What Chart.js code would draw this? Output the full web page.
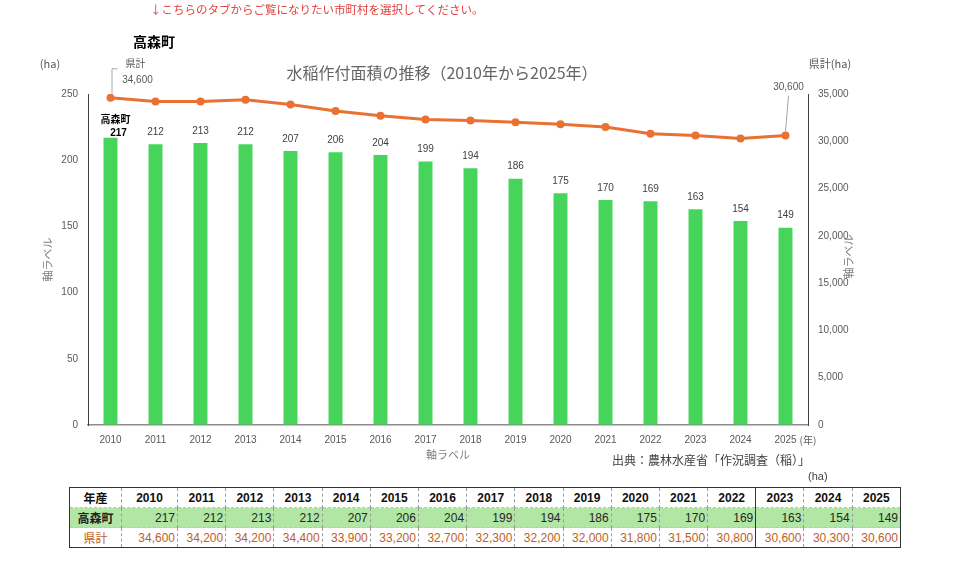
<!DOCTYPE html>
<html lang="ja">
<head>
<meta charset="utf-8">
<script src="https://cdn.jsdelivr.net/npm/chart.js@4.4.1/dist/chart.umd.min.js"></script>
<style>
  body { margin: 0; background: #fff; width: 960px; height: 567px; overflow: hidden; position: relative; }
  #wrap { position: absolute; left: 0; top: 0; width: 960px; height: 472px; }
  #tbl {
    position: absolute; left: 69px; top: 487px; width: 832px;
    border-collapse: collapse; table-layout: fixed;
    border: 1px solid #333;
    font-family: 'Liberation Sans', 'Noto Sans CJK JP', sans-serif; font-size: 12px;
  }
  #tbl th, #tbl td { height: 19px; padding: 0 2px; border-left: 1px dashed #9a9a9a; border-top: 1px dashed #c0c0c0; white-space: nowrap; }
  #tbl .hd th { font-weight: bold; text-align: center; color: #111; }
  #tbl .tk { background: #b2e6a4; }
  #tbl .tk th { font-weight: bold; color: #222; }
  #tbl .tk td { text-align: right; color: #262626; }
  #tbl .kk th { font-weight: normal; color: #c0601e; }
  #tbl .kk td { text-align: right; color: #c0601e; }
  #tbl .solid { border-left: 1px solid #333; }
  #unit { position: absolute; left: 808px; top: 470px; font: 11px 'Liberation Sans', 'Noto Sans CJK JP', sans-serif; color: #404040; }
</style>
</head>
<body>
<div id="wrap"><canvas id="myChart" width="960" height="472"></canvas></div>
<div id="unit">(ha)</div>
<table id="tbl"></table>
<script>
// データ
const years = ['2010', '2011', '2012', '2013', '2014', '2015', '2016', '2017',
  '2018', '2019', '2020', '2021', '2022', '2023', '2024', '2025']
const takamori = [217, 212, 213, 212, 207, 206, 204, 199, 194, 186, 175, 170, 169, 163, 154, 149]
const kenkei = [34600, 34200, 34200, 34400, 33900, 33200, 32700, 32300, 32200, 32000,
  31800, 31500, 30800, 30600, 30300, 30600]
const leftTicks = [0, 50, 100, 150, 200, 250]
const rightTicks = [0, 5000, 10000, 15000, 20000, 25000, 30000, 35000]

const FONT = "'Liberation Sans', 'Noto Sans CJK JP', sans-serif"
const JFONT = "'Noto Sans CJK JP', sans-serif"
const fmt = (v) => v.toLocaleString('en-US')

// テーブル
const tbl = document.getElementById('tbl')
let html = '<colgroup><col style="width:52px"><col style="width:56px">'
for (let i = 1; i < years.length; i++) html += '<col>'
html += '</colgroup>'
const cls = (i) => (years[i] === '2023' ? ' class="solid"' : '')
html += '<tr class="hd"><th>年産</th>' + years.map((y, i) => `<th${cls(i)}>${y}</th>`).join('') + '</tr>'
html += '<tr class="tk"><th>高森町</th>' + takamori.map((v, i) => `<td${cls(i)}>${v}</td>`).join('') + '</tr>'
html += '<tr class="kk"><th>県計</th>' + kenkei.map((v, i) => `<td${cls(i)}>${fmt(v)}</td>`).join('') + '</tr>'
tbl.innerHTML = html

// ラベル類
const textPlugin = {
  id: 'texts',
  afterDraw(chart) {
    const ctx = chart.ctx
    const bars = chart.getDatasetMeta(1).data
    const pts = chart.getDatasetMeta(0).data
    ctx.save()
    ctx.textAlign = 'center'
    ctx.textBaseline = 'middle'

    // 棒の値
    ctx.font = '10px ' + FONT
    ctx.fillStyle = '#404040'
    bars.forEach((bar, i) => {
      if (i === 0) return
      ctx.fillText(takamori[i], bar.x, bar.y - 12)
    })
    ctx.fillStyle = '#000'
    ctx.font = 'bold 10px ' + FONT
    ctx.fillText(takamori[0], bars[0].x + 8, bars[0].y - 4)
    ctx.font = 'bold 10px ' + JFONT
    ctx.fillText('高森町', bars[0].x + 5, bars[0].y - 18)

    // 折れ線のラベル
    const p0 = pts[0]
    const pn = pts[pts.length - 1]
    ctx.strokeStyle = '#a6a6a6'
    ctx.lineWidth = 1
    ctx.beginPath()
    ctx.moveTo(p0.x + 1.5, p0.y - 4)
    ctx.lineTo(p0.x + 1.5, p0.y - 29)
    ctx.lineTo(p0.x + 7, p0.y - 29)
    ctx.moveTo(pn.x, pn.y - 4)
    ctx.lineTo(pn.x + 3, pn.y - 40)
    ctx.stroke()
    ctx.fillStyle = '#595959'
    ctx.font = '10px ' + JFONT
    ctx.fillText('県計', p0.x + 25, p0.y - 35)
    ctx.font = '10px ' + FONT
    ctx.fillText(fmt(kenkei[0]), p0.x + 27, p0.y - 18)
    ctx.fillText(fmt(kenkei[kenkei.length - 1]), pn.x + 3, pn.y - 48)

    const area = chart.chartArea
    // 軸タイトル
    ctx.fillStyle = '#808080'
    ctx.font = '11px ' + JFONT
    ctx.fillText('軸ラベル', (area.left + area.right) / 2, area.bottom + 30)
    ctx.save()
    ctx.translate(48, (area.top + area.bottom) / 2)
    ctx.rotate(-Math.PI / 2)
    ctx.fillText('軸ラベル', 0, 0)
    ctx.restore()
    ctx.save()
    ctx.translate(849, (area.top + area.bottom) / 2 - 3)
    ctx.rotate(-Math.PI / 2)
    ctx.fillText('軸ラベル', 0, 0)
    ctx.restore()

    ctx.fillStyle = '#595959'
    ctx.font = '10px ' + JFONT
    ctx.fillText('(年)', area.right, area.bottom + 15)
    ctx.font = '11px ' + JFONT
    ctx.fillText('(ha)', 50, 64)
    ctx.fillText('県計(ha)', 830, 64)

    // タイトル
    ctx.font = '16px ' + JFONT
    ctx.fillStyle = '#656565'
    ctx.fillText('水稲作付面積の推移（2010年から2025年）', (area.left + area.right) / 2 - 6, 73)

    ctx.font = '12px ' + JFONT
    ctx.fillStyle = '#404040'
    ctx.textAlign = 'right'
    ctx.fillText('出典：農林水産省「作況調査（稲）」', area.right + 2, area.bottom + 35)

    ctx.textAlign = 'left'
    ctx.font = 'bold 14px ' + JFONT
    ctx.fillStyle = '#000'
    ctx.fillText('高森町', 133, 42)
    ctx.font = '11.5px ' + JFONT
    ctx.fillStyle = '#e0403c'
    ctx.fillText('↓こちらのタブからご覧になりたい市町村を選択してください。', 150, 10)
    ctx.restore()
  },
}

const data = {
  labels: years,
  datasets: [
    {
      type: 'line',
      label: '県計',
      data: kenkei,
      yAxisID: 'y2',
      borderColor: '#e97132',
      backgroundColor: '#e97132',
      borderWidth: 3,
      pointRadius: 4,
      pointBorderWidth: 0,
      tension: 0,
      order: 0,
    },
    {
      type: 'bar',
      label: '高森町',
      data: takamori,
      yAxisID: 'y',
      backgroundColor: '#47d45a',
      barPercentage: 0.31,
      categoryPercentage: 1,
      order: 1,
    },
  ],
}

const config = {
  data: data,
  options: {
    responsive: false,
    devicePixelRatio: 1,
    animation: false,
    layout: { padding: { top: 94, left: 0, right: 0, bottom: 0 } },
    plugins: {
      legend: { display: false },
      tooltip: { enabled: false },
    },
    scales: {
      x: {
        grid: { display: true, drawOnChartArea: false, drawTicks: false },
        border: { color: '#8c8c8c', width: 1.5 },
        ticks: { color: '#595959', font: { size: 10, family: FONT }, padding: 9, maxRotation: 0 },
        afterFit: (scale) => { scale.height = 47 },
      },
      y: {
        position: 'left',
        min: leftTicks[0],
        max: leftTicks[leftTicks.length - 1],
        grid: { display: true, drawOnChartArea: false, drawTicks: false },
        border: { color: '#404040', width: 1 },
        ticks: { stepSize: 50, color: '#595959', font: { size: 10, family: FONT }, padding: 10 },
        afterFit: (scale) => { scale.width = 88 },
      },
      y2: {
        position: 'right',
        min: rightTicks[0],
        max: rightTicks[rightTicks.length - 1],
        grid: { display: true, drawOnChartArea: false, drawTicks: false },
        border: { color: '#404040', width: 1 },
        ticks: {
          stepSize: 5000,
          color: '#595959',
          font: { size: 10, family: FONT },
          padding: 10,
          callback: (v) => fmt(v),
        },
        afterFit: (scale) => { scale.width = 152 },
      },
    },
  },
  plugins: [textPlugin],
}

var myChart = new Chart(document.getElementById('myChart'), config)
</script>
</body>
</html>
